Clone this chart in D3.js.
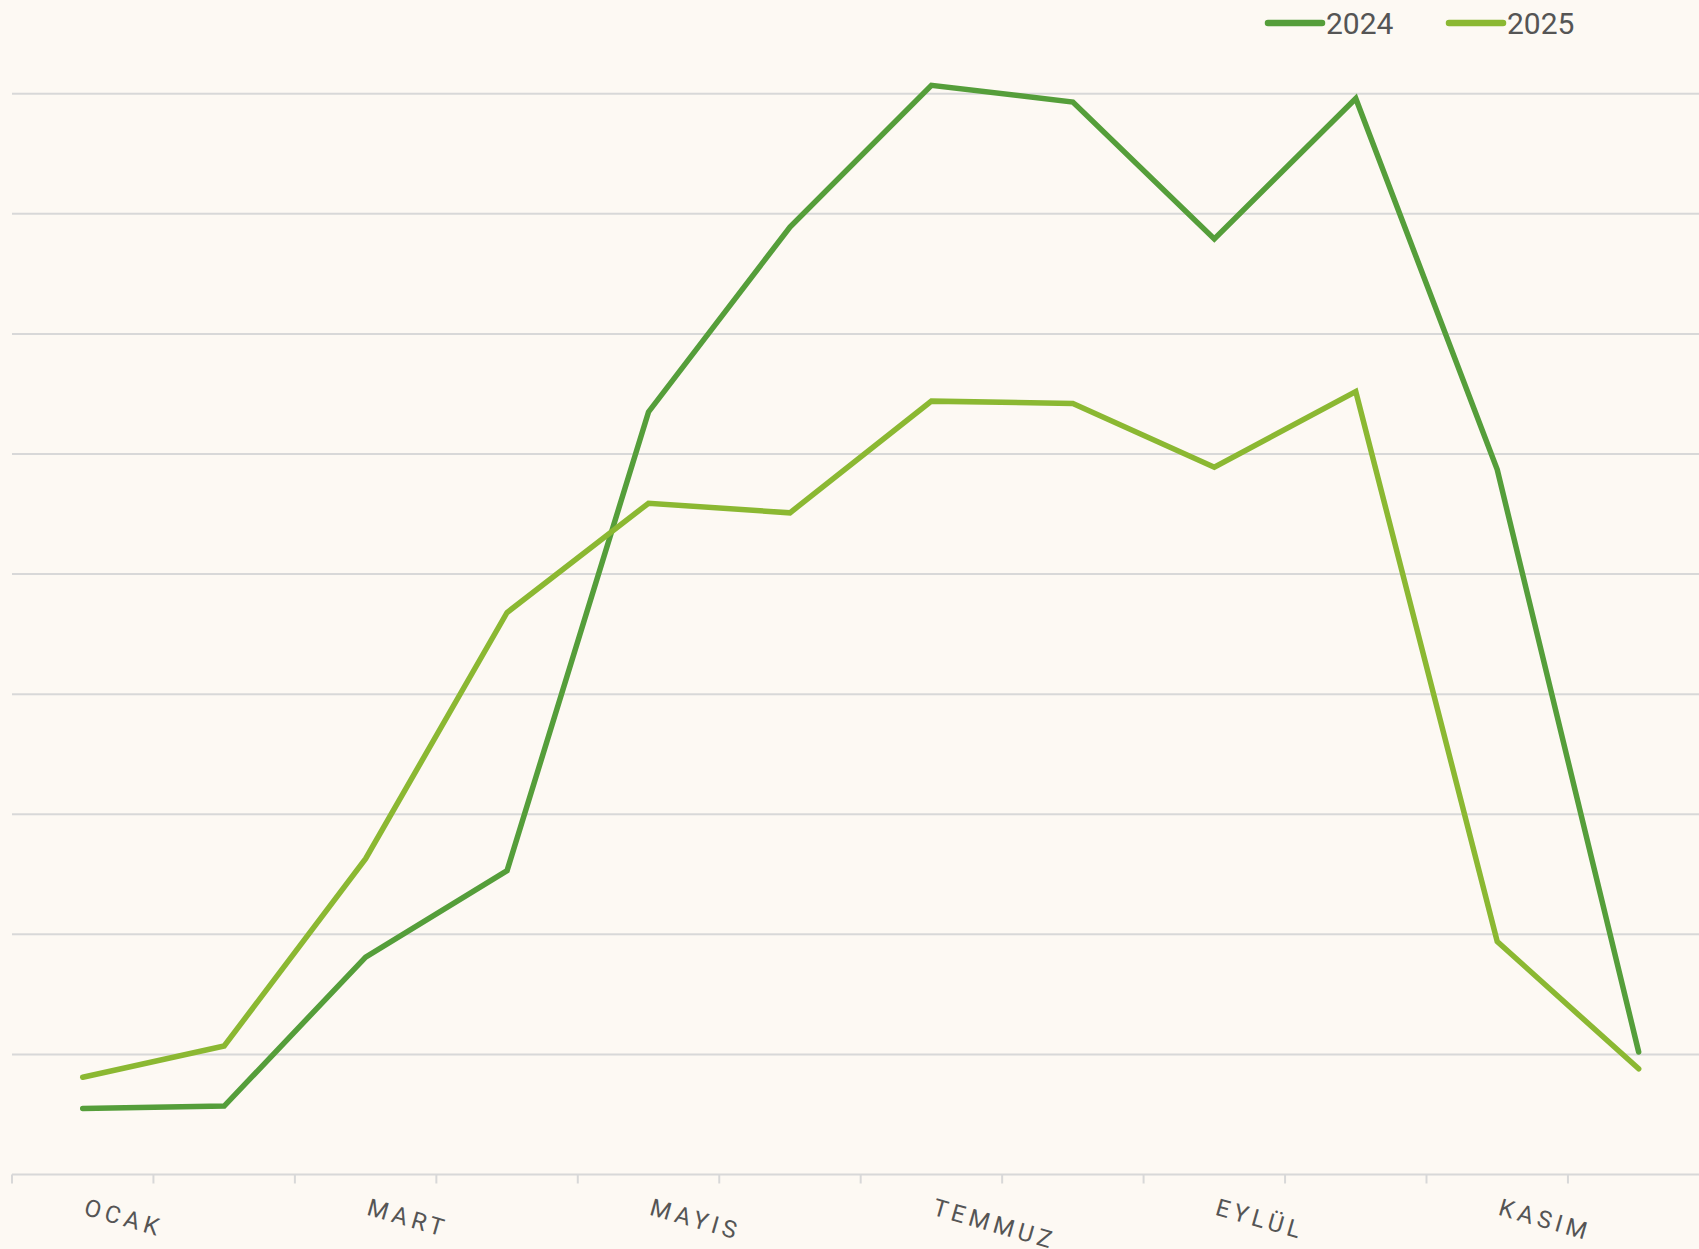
<!DOCTYPE html>
<html>
<head>
<meta charset="utf-8">
<script src="https://cdn.jsdelivr.net/npm/d3@7"></script>
<style>
  html, body { margin: 0; padding: 0; background: #fdf9f3; }
  svg { display: block; font-family: Roboto, sans-serif; }
</style>
</head>
<body>
<script>
const width = 1699;
const height = 1249;

const months = ['OCAK', 'ŞUBAT', 'MART', 'NİSAN', 'MAYIS', 'HAZİRAN', 'TEMMUZ', 'AĞUSTOS', 'EYLÜL', 'EKİM', 'KASIM', 'ARALIK'];
const shownMonths = ['OCAK', 'MART', 'MAYIS', 'TEMMUZ', 'EYLÜL', 'KASIM'];
const values2024 = [5.5, 5.7, 18.1, 25.3, 63.5, 78.9, 90.7, 89.3, 77.9, 89.6, 58.7, 10.2];
const values2025 = [8.1, 10.7, 26.3, 46.8, 55.9, 55.1, 64.4, 64.2, 58.9, 65.2, 19.4, 8.8];
const gridValues = [10, 20, 30, 40, 50, 60, 70, 80, 90];

const series = [
    { name: '2024', values: values2024, color: '#559e3a' },
    { name: '2025', values: values2025, color: '#8bb832' }
];

const svg = d3.select('body')
    .append('svg')
    .attr('width', width)
    .attr('height', height);

svg.append('rect')
    .attr('width', width)
    .attr('height', height)
    .attr('fill', '#fdf9f3');

// band scale runs a bit past the right edge, like the original
const x = d3.scaleBand()
    .domain(months)
    .range([12, 1709.4]);

const y = d3.scaleLinear()
    .domain([0, 90])
    .range([1174.5, 93.7]);

// grid
svg.append('g')
    .selectAll('line')
    .data(gridValues)
    .join('line')
    .attr('x1', 12)
    .attr('x2', width)
    .attr('y1', d => y(d))
    .attr('y2', d => y(d))
    .attr('stroke', '#d8d8d8')
    .attr('stroke-width', 2);

// x axis
const axis = svg.append('g');
axis.append('line')
    .attr('x1', 12)
    .attr('x2', width)
    .attr('y1', y(0))
    .attr('y2', y(0))
    .attr('stroke', '#d8d8d8')
    .attr('stroke-width', 2);

axis.selectAll('.tick')
    .data(months)
    .join('line')
    .attr('class', 'tick')
    .attr('x1', d => x(d))
    .attr('x2', d => x(d))
    .attr('y1', y(0))
    .attr('y2', y(0) + 9)
    .attr('stroke', '#d8d8d8')
    .attr('stroke-width', 2);

axis.selectAll('.label')
    .data(shownMonths)
    .join('text')
    .attr('class', 'label')
    .attr('transform', d => `translate(${x(d) + x.bandwidth() / 2},${y(0) + 40}) rotate(16)`)
    .attr('fill', '#555')
    .attr('font-size', 24)
    .attr('letter-spacing', 4.5)
    .text(d => d);

// lines
const line = d3.line()
    .x((d, i) => x(months[i]) + x.bandwidth() / 2)
    .y(d => y(d));

svg.append('g')
    .selectAll('path')
    .data(series)
    .join('path')
    .attr('d', d => line(d.values))
    .attr('fill', 'none')
    .attr('stroke', d => d.color)
    .attr('stroke-width', 5.5)
    .attr('stroke-linecap', 'round')
    .attr('stroke-linejoin', 'miter');

// legend
const legend = svg.append('g')
    .selectAll('g')
    .data(series)
    .join('g')
    .attr('transform', (d, i) => `translate(${1268 + i * 181},23)`);

legend.append('line')
    .attr('x1', 0)
    .attr('x2', 54)
    .attr('stroke', d => d.color)
    .attr('stroke-width', 6.5)
    .attr('stroke-linecap', 'round');

legend.append('text')
    .attr('x', 58)
    .attr('y', 10.5)
    .attr('fill', '#555')
    .attr('font-size', 30)
    .text(d => d.name);
</script>
</body>
</html>
